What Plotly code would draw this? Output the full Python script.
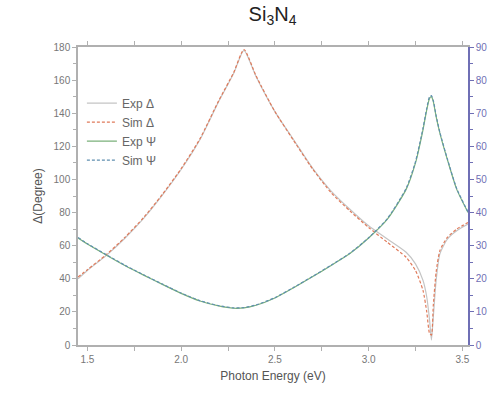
import plotly.graph_objects as go

energy = [1.45, 1.5, 1.6, 1.7, 1.8, 1.9, 2.0, 2.1, 2.2, 2.28, 2.335, 2.4, 2.5, 2.6, 2.7,
          2.8, 2.9, 3.0, 3.1, 3.2, 3.25, 3.29, 3.31, 3.325, 3.335, 3.345, 3.36, 3.38,
          3.42, 3.47, 3.53]
delta_exp = [40, 45, 54, 64.5, 76.5, 90.5, 106, 124, 147, 164, 178, 162, 141, 124, 107,
             93, 82, 72, 64, 56, 49, 39, 29, 15, 3, 17, 39, 55, 64, 69, 73]
delta_sim = [41, 45.5, 54.5, 65, 77, 91, 106.5, 124.5, 147.5, 164.5, 178.5, 162.5, 141, 123.5, 106.5,
             92, 81, 71, 62, 53, 45, 33, 20, 7, 6, 24, 44, 57, 65, 70, 74]
psi_exp = [32.3, 30.5, 27.2, 24, 21.1, 18.3, 15.6, 13.3, 11.8, 11.1, 11.2, 12, 14.2, 17.3, 20.6,
           24.0, 27.6, 32.3, 38, 47, 55, 65, 71, 74.5, 75, 73.5, 69, 64, 56, 47, 40]
psi_sim = [32.5, 30.6, 27.3, 24.1, 21.2, 18.4, 15.7, 13.4, 11.9, 11.2, 11.3, 12.1, 14.3, 17.4, 20.7,
           24.1, 27.7, 32.4, 38.2, 47.3, 55.4, 65.5, 71.5, 75, 75.3, 73.8, 69.3, 64.2, 56.2, 47.2, 40.2]

x_ticks = [1.5, 2.0, 2.5, 3.0, 3.5]
x_labels = ["1.5", "2.0", "2.5", "3.0", "3.5"]

FONT = "Liberation Sans, Arial, sans-serif"
GRAY = "#777777"
BLUE = "#6f6fb5"

fig = go.Figure()
fig.add_trace(go.Scatter(x=energy, y=delta_exp, mode="lines", name="Exp Δ",
                         line=dict(color="#c4c4c4", width=1.2, shape="spline", smoothing=0.6)))
fig.add_trace(go.Scatter(x=energy, y=delta_sim, mode="lines", name="Sim Δ",
                         line=dict(color="#e07a5a", width=1.2, dash="3px,2px", shape="spline", smoothing=0.6)))
fig.add_trace(go.Scatter(x=energy, y=psi_exp, mode="lines", name="Exp Ψ", yaxis="y2",
                         line=dict(color="#7ab07a", width=1.2, shape="spline", smoothing=0.6)))
fig.add_trace(go.Scatter(x=energy, y=psi_sim, mode="lines", name="Sim Ψ", yaxis="y2",
                         line=dict(color="#5f8fb0", width=1.2, dash="3px,2px", shape="spline", smoothing=0.6)))

fig.update_layout(
    width=500, height=395,
    margin=dict(l=78, r=32, t=47, b=50),
    paper_bgcolor="white", plot_bgcolor="white",
    font=dict(family=FONT, color=GRAY, size=10),
    title=dict(text="Si<sub>3</sub>N<sub>4</sub>", x=0.545, xanchor="center", y=0.965,
               yanchor="middle", font=dict(size=20, color="#222222", family=FONT)),
    showlegend=True,
    legend=dict(x=0.01, y=0.86, xanchor="left", yanchor="top", bgcolor="rgba(0,0,0,0)",
                font=dict(size=12, color="#666666", family=FONT), tracegroupgap=0),
    xaxis=dict(range=[1.45, 3.53], tickvals=x_ticks, ticktext=x_labels,
               showgrid=False, zeroline=False, showline=True, linecolor="#b0b0b0", linewidth=1.5,
               mirror="allticks", ticks="outside", ticklen=4, tickcolor="#b0b0b0",
               minor=dict(dtick=0.25, tick0=1.5, ticks="outside", ticklen=3, tickcolor="#b0b0b0"),
               title=dict(text="Photon Energy (eV)", font=dict(size=12, color="#555555"), standoff=8)),
    yaxis=dict(range=[0, 180], dtick=20, showgrid=False, zeroline=False, showline=True,
               linecolor="#b0b0b0", linewidth=1.5, ticks="outside", ticklen=4, tickcolor="#b0b0b0",
               minor=dict(dtick=10, ticks="outside", ticklen=3, tickcolor="#b0b0b0"),
               title=dict(text="Δ(Degree)", font=dict(size=12, color="#555555"), standoff=8)),
    yaxis2=dict(range=[0, 90], dtick=10, overlaying="y", side="right", showgrid=False,
                zeroline=False, showline=True, linecolor=BLUE, linewidth=1.5,
                ticks="outside", ticklen=4, tickcolor=BLUE, tickfont=dict(color=BLUE),
                minor=dict(dtick=5, ticks="outside", ticklen=3, tickcolor=BLUE)),
)

fig.write_html("out.html")
